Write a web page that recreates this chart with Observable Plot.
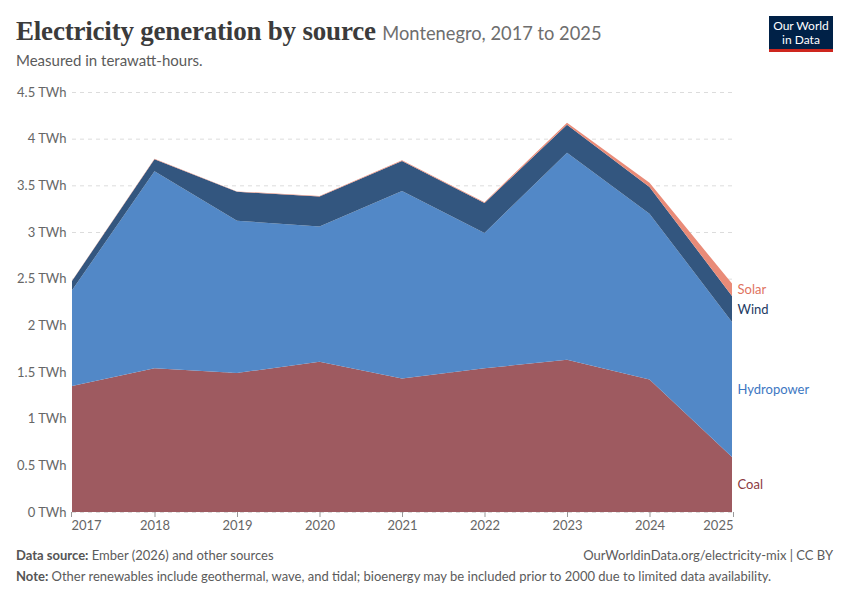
<!DOCTYPE html>
<html>
<head>
<meta charset="utf-8">
<script src="https://cdn.jsdelivr.net/npm/d3@7"></script>
<script src="https://cdn.jsdelivr.net/npm/@observablehq/plot@0.6"></script>
<style>
  html, body { margin: 0; padding: 0; background: #fff; }
  body { width: 850px; height: 600px; position: relative; font-family: Lato, "Noto Sans", sans-serif; overflow: hidden; }
  .abs { position: absolute; white-space: nowrap; }
  #title { left: 16px; top: 16px; font-family: "Liberation Serif", "DejaVu Serif", serif; font-weight: 700; font-size: 27px; color: #3b3b3b; letter-spacing: -0.2px; }
  #title span { font-family: Lato, sans-serif; font-weight: 400; font-size: 18.3px; color: #6e6e6e; letter-spacing: 0; }
  #sub { left: 16px; top: 51px; font-size: 15px; color: #5b5b5b; }
  #logo { left: 769px; top: 16px; width: 64px; height: 33px; background: #002147; border-bottom: 3px solid #ce261e; }
  #logo div { position: absolute; left: 0; width: 64px; text-align: center; color: #fff; font-size: 12px; line-height: 12px; }
  #chart { left: 0; top: 80px; }
  #src { left: 16px; top: 547px; font-size: 13px; color: #5b5b5b; }
  #url { right: 17px; top: 547px; font-size: 13px; color: #5b5b5b; }
  #note { left: 16px; top: 568px; font-size: 13px; color: #5b5b5b; }
  b { font-weight: 700; color: #555; }
</style>
</head>
<body>
<div id="title" class="abs">Electricity generation by source <span>Montenegro, 2017 to 2025</span></div>
<div id="sub" class="abs">Measured in terawatt-hours.</div>
<div id="logo" class="abs"><div style="top:4px">Our World</div><div style="top:18px">in Data</div></div>
<div id="chart" class="abs"></div>
<div id="src" class="abs"><b>Data source:</b> Ember (2026) and other sources</div>
<div id="url" class="abs">OurWorldinData.org/electricity-mix | CC BY</div>
<div id="note" class="abs"><b>Note:</b> Other renewables include geothermal, wave, and tidal; bioenergy may be included prior to 2000 due to limited data availability.</div>
<script>
const years = [2017, 2018, 2019, 2020, 2021, 2022, 2023, 2024, 2025];
const coal  = [1.35, 1.54, 1.49, 1.61, 1.43, 1.54, 1.63, 1.42, 0.59];
const hydro = [1.025, 2.11, 1.63, 1.45, 2.01, 1.45, 2.22, 1.776, 1.447];
const wind  = [0.10, 0.13, 0.31, 0.32, 0.32, 0.32, 0.30, 0.286, 0.278];
const solar = [0.003, 0.005, 0.005, 0.006, 0.008, 0.01, 0.02, 0.046, 0.132];
const sources = ["Coal", "Hydropower", "Wind", "Solar"];
const fillColors = ["#9e5a60", "#5288c7", "#33567f", "#e98b78"];
const labelColors = ["#8b3a40", "#3d77c2", "#1c3a63", "#e0735f"];
const yTicks = [0, 0.5, 1, 1.5, 2, 2.5, 3, 3.5, 4, 4.5];

const series = [coal, hydro, wind, solar];
const rows = [];
sources.forEach((s, i) => years.forEach((y, j) => rows.push({source: s, year: y, value: series[i][j]})));

// label positions at the last year: midpoint of each band
const last = years.length - 1;
let cum = 0;
const labels = sources.map((s, i) => {
  const v = series[i][last];
  const mid = cum + v / 2;
  cum += v;
  return {source: s, year: years[last], mid};
});

const xAxisOpts = {tickSize: 5, tickPadding: 3, tickFormat: d => String(d), fontSize: 13, color: "#666", stroke: "#999", label: null};
const marks = [
  Plot.gridY(yTicks, {stroke: "#dcdcdc", strokeOpacity: 1, strokeDasharray: "4,4"}),
  Plot.areaY(rows, {x: "year", y: "value", z: "source", fill: "source", order: sources, curve: "linear"}),
  Plot.axisY(yTicks, {tickSize: 0, tickPadding: 6, tickFormat: d => d + " TWh", fontSize: 13, fill: "#666", textAnchor: "end", label: null}),
  Plot.axisX(years.slice(1, -1), xAxisOpts),
  Plot.axisX([years[0]], {...xAxisOpts, textAnchor: "start", dx: -1}),
  Plot.axisX([years[last]], {...xAxisOpts, textAnchor: "end", dx: 1})
];
labels.forEach((l, i) => {
  marks.push(Plot.text([l], {x: "year", y: "mid", text: "source", textAnchor: "start", dx: 5, fontSize: 13, fill: labelColors[i]}));
});

const chart = Plot.plot({
  width: 850,
  height: 462,
  marginTop: 12,
  marginBottom: 30,
  marginLeft: 72,
  marginRight: 118,
  style: {fontFamily: "Lato, sans-serif", background: "#fff"},
  x: {type: "linear", domain: [years[0], years[last]], label: null},
  y: {domain: [0, 4.5], label: null},
  color: {domain: sources, range: fillColors},
  marks
});
document.getElementById("chart").appendChild(chart);
</script>
</body>
</html>
